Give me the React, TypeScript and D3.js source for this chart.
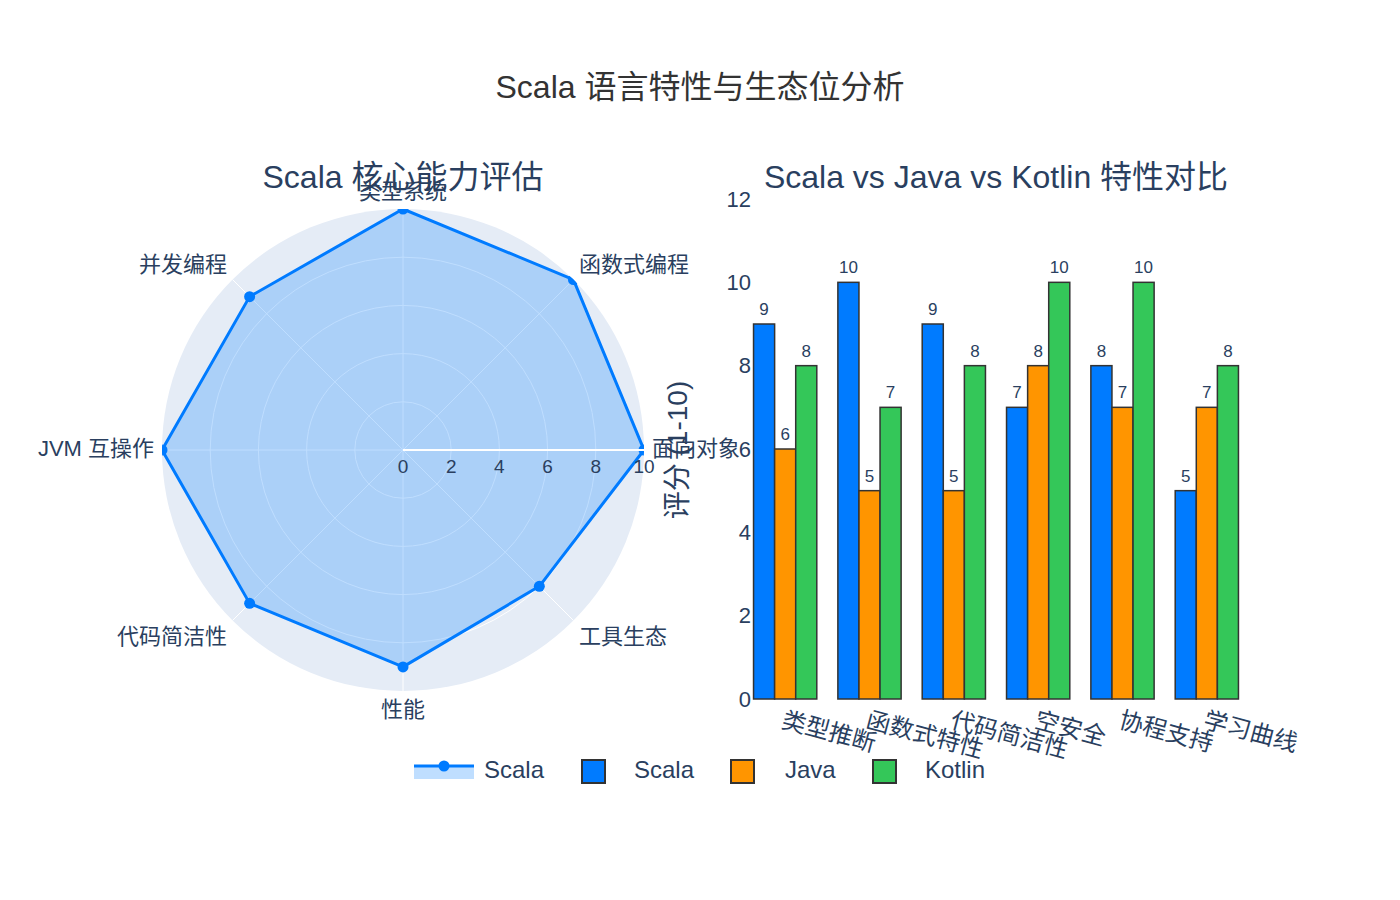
import React, { useEffect, useRef } from 'react'
import * as d3 from 'd3'

// 雷达图：Scala 核心能力
const radarAxes = ['面向对象', '函数式编程', '类型系统', '并发编程', 'JVM 互操作', '代码简洁性', '性能', '工具生态']
const radarScores = [10, 10, 10, 9, 10, 9, 9, 8]
const radialTicks = [0, 2, 4, 6, 8, 10]

// 柱状图：三种语言对比
const features = ['类型推断', '函数式特性', '代码简洁性', '空安全', '协程支持', '学习曲线']
const languages = ['Scala', 'Java', 'Kotlin']
const scalaScores = [9, 10, 9, 7, 8, 5]
const javaScores = [6, 5, 5, 8, 7, 7]
const kotlinScores = [8, 7, 8, 10, 10, 8]
const yTicks = [0, 2, 4, 6, 8, 10, 12]

const colors: Record<string, string> = { Scala: '#007BFF', Java: '#FF9500', Kotlin: '#34C759' }
const FONT = '"Liberation Sans", Arial, "Noto Sans CJK SC", sans-serif'
const TXT = '#2a3f5f'

export default function App() {
  const ref = useRef<SVGSVGElement>(null)

  useEffect(() => {
    const svg = d3.select(ref.current)
    svg.selectAll('*').remove()
    svg.attr('font-family', FONT)

    // 总标题
    svg.append('text')
      .attr('x', 700).attr('y', 90)
      .attr('text-anchor', 'middle').attr('dominant-baseline', 'middle')
      .attr('font-size', 32).attr('fill', '#333')
      .text('Scala 语言特性与生态位分析')

    // ---------- 雷达图 ----------
    const cx = 403, cy = 450, R = 241
    const r = d3.scaleLinear().domain([0, 10]).range([0, R])
    const ang = (i: number) => (i * 2 * Math.PI) / radarAxes.length
    const px = (i: number, v: number) => cx + r(v) * Math.cos(ang(i))
    const py = (i: number, v: number) => cy - r(v) * Math.sin(ang(i))

    const polar = svg.append('g')
    svg.append('defs').append('clipPath').attr('id', 'polar-clip')
      .append('circle').attr('cx', cx).attr('cy', cy).attr('r', R)

    polar.append('circle').attr('cx', cx).attr('cy', cy).attr('r', R).attr('fill', '#E5ECF6')

    // 网格
    polar.selectAll('circle.grid').data(radialTicks.slice(1, -1)).enter().append('circle')
      .attr('class', 'grid')
      .attr('cx', cx).attr('cy', cy).attr('r', d => r(d))
      .attr('fill', 'none').attr('stroke', '#fff').attr('stroke-width', 1)
    polar.selectAll('line.spoke').data(radarAxes).enter().append('line')
      .attr('class', 'spoke')
      .attr('x1', cx).attr('y1', cy)
      .attr('x2', (_, i) => px(i, 10)).attr('y2', (_, i) => py(i, 10))
      .attr('stroke', '#fff').attr('stroke-width', 1)

    // 数据多边形
    const pts = radarScores.map((v, i) => [px(i, v), py(i, v)] as [number, number])
    const line = d3.line().curve(d3.curveLinearClosed)
    const clipped = polar.append('g').attr('clip-path', 'url(#polar-clip)')
    clipped.append('path').attr('d', line(pts))
      .attr('fill', 'rgba(0,123,255,0.25)').attr('stroke', 'none')

    // 径向轴线与刻度
    polar.append('line')
      .attr('x1', cx).attr('y1', cy).attr('x2', cx + R).attr('y2', cy)
      .attr('stroke', '#fff').attr('stroke-width', 2)

    clipped.append('path').attr('d', line(pts))
      .attr('fill', 'none').attr('stroke', colors.Scala).attr('stroke-width', 3)
      .attr('stroke-linejoin', 'round')
    clipped.selectAll('circle.pt').data(pts).enter().append('circle')
      .attr('class', 'pt')
      .attr('cx', d => d[0]).attr('cy', d => d[1]).attr('r', 5.5)
      .attr('fill', colors.Scala)

    polar.selectAll('text.rtick').data(radialTicks).enter().append('text')
      .attr('class', 'rtick')
      .attr('x', d => cx + r(d)).attr('y', cy + 18)
      .attr('text-anchor', 'middle').attr('dominant-baseline', 'middle')
      .attr('font-size', 19).attr('fill', TXT)
      .text(d => d)

    polar.selectAll('text.alabel').data(radarAxes).enter().append('text')
      .attr('class', 'alabel')
      .attr('x', (_, i) => cx + (R + 8) * Math.cos(ang(i)))
      .attr('y', (_, i) => {
        const s = Math.sin(ang(i))
        return cy - (R + 8) * s + (s > 0.1 ? -8 : s < -0.1 ? 12 : 0)
      })
      .attr('text-anchor', (_, i) => {
        const c = Math.cos(ang(i))
        return c > 0.1 ? 'start' : c < -0.1 ? 'end' : 'middle'
      })
      .attr('dominant-baseline', 'middle')
      .attr('font-size', 22).attr('fill', TXT)
      .text(d => d)

    svg.append('text')
      .attr('x', cx).attr('y', 180)
      .attr('text-anchor', 'middle').attr('dominant-baseline', 'middle')
      .attr('font-size', 32).attr('fill', TXT)
      .text('Scala 核心能力评估')

    // ---------- 柱状图 ----------
    const left = 743, right = 1249, top = 199, bottom = 699
    const x = d3.scaleBand().domain(features).range([left, right]).paddingInner(0.25).paddingOuter(0.125)
    const xs = d3.scaleBand().domain(languages).range([0, x.bandwidth()])
    const y = d3.scaleLinear().domain([0, 12]).range([bottom, top])
    const series: Record<string, number[]> = { Scala: scalaScores, Java: javaScores, Kotlin: kotlinScores }

    const bars = svg.append('g')
    languages.forEach(lang => {
      const g = bars.append('g')
      g.selectAll('rect').data(series[lang]).enter().append('rect')
        .attr('x', (_, i) => (x(features[i]) as number) + (xs(lang) as number))
        .attr('y', d => y(d))
        .attr('width', xs.bandwidth())
        .attr('height', d => bottom - y(d))
        .attr('fill', colors[lang]).attr('stroke', '#333').attr('stroke-width', 1.5)
      g.selectAll('text').data(series[lang]).enter().append('text')
        .attr('x', (_, i) => (x(features[i]) as number) + (xs(lang) as number) + xs.bandwidth() / 2)
        .attr('y', d => y(d) - 9)
        .attr('text-anchor', 'middle')
        .attr('font-size', 17).attr('fill', TXT)
        .text(d => d)
    })

    // y 轴
    const yAxis = svg.append('g').attr('transform', `translate(${left + 8},0)`)
      .call(d3.axisLeft(y).tickValues(yTicks).tickSize(0).tickPadding(0))
    yAxis.select('.domain').remove()
    yAxis.selectAll('text').attr('font-size', 22).attr('fill', TXT).attr('font-family', FONT)

    // x 轴标签（倾斜）
    svg.append('g').selectAll('text').data(features).enter().append('text')
      .attr('transform', d => `translate(${(x(d) as number) + x.bandwidth() / 2 - 3},${bottom + 22}) rotate(15)`)
      .attr('text-anchor', 'start').attr('dominant-baseline', 'middle')
      .attr('font-size', 24).attr('fill', TXT)
      .text(d => d)

    svg.append('text')
      .attr('transform', `translate(680,450) rotate(-90)`)
      .attr('text-anchor', 'middle').attr('dominant-baseline', 'middle')
      .attr('font-size', 28).attr('fill', TXT)
      .text('评分 (1-10)')

    svg.append('text')
      .attr('x', (left + right) / 2).attr('y', 180)
      .attr('text-anchor', 'middle').attr('dominant-baseline', 'middle')
      .attr('font-size', 32).attr('fill', TXT)
      .text('Scala vs Java vs Kotlin 特性对比')

    // ---------- 图例 ----------
    const ly = 772
    const legend = svg.append('g')
    legend.append('rect').attr('x', 414).attr('y', ly - 6).attr('width', 60).attr('height', 13)
      .attr('fill', 'rgba(0,123,255,0.25)')
    legend.append('line').attr('x1', 414).attr('x2', 474).attr('y1', ly - 6).attr('y2', ly - 6)
      .attr('stroke', colors.Scala).attr('stroke-width', 3)
    legend.append('circle').attr('cx', 444).attr('cy', ly - 6).attr('r', 5.5).attr('fill', colors.Scala)
    legend.append('text').attr('x', 484).attr('y', ly).attr('dominant-baseline', 'middle')
      .attr('font-size', 24).attr('fill', TXT).text('Scala')

    const legendItems = [
      { name: 'Scala', sx: 582, tx: 634 },
      { name: 'Java', sx: 731, tx: 785 },
      { name: 'Kotlin', sx: 873, tx: 925 },
    ]
    legendItems.forEach(it => {
      legend.append('rect').attr('x', it.sx).attr('y', ly - 12).attr('width', 23).attr('height', 23)
        .attr('fill', colors[it.name]).attr('stroke', '#333').attr('stroke-width', 2)
      legend.append('text').attr('x', it.tx).attr('y', ly).attr('dominant-baseline', 'middle')
        .attr('font-size', 24).attr('fill', TXT).text(it.name)
    })
  }, [])

  return (
    <div style={{ position: 'absolute', left: 0, top: 0 }}>
      <svg ref={ref} width={1400} height={900} style={{ display: 'block', background: '#fff' }} />
    </div>
  )
}
